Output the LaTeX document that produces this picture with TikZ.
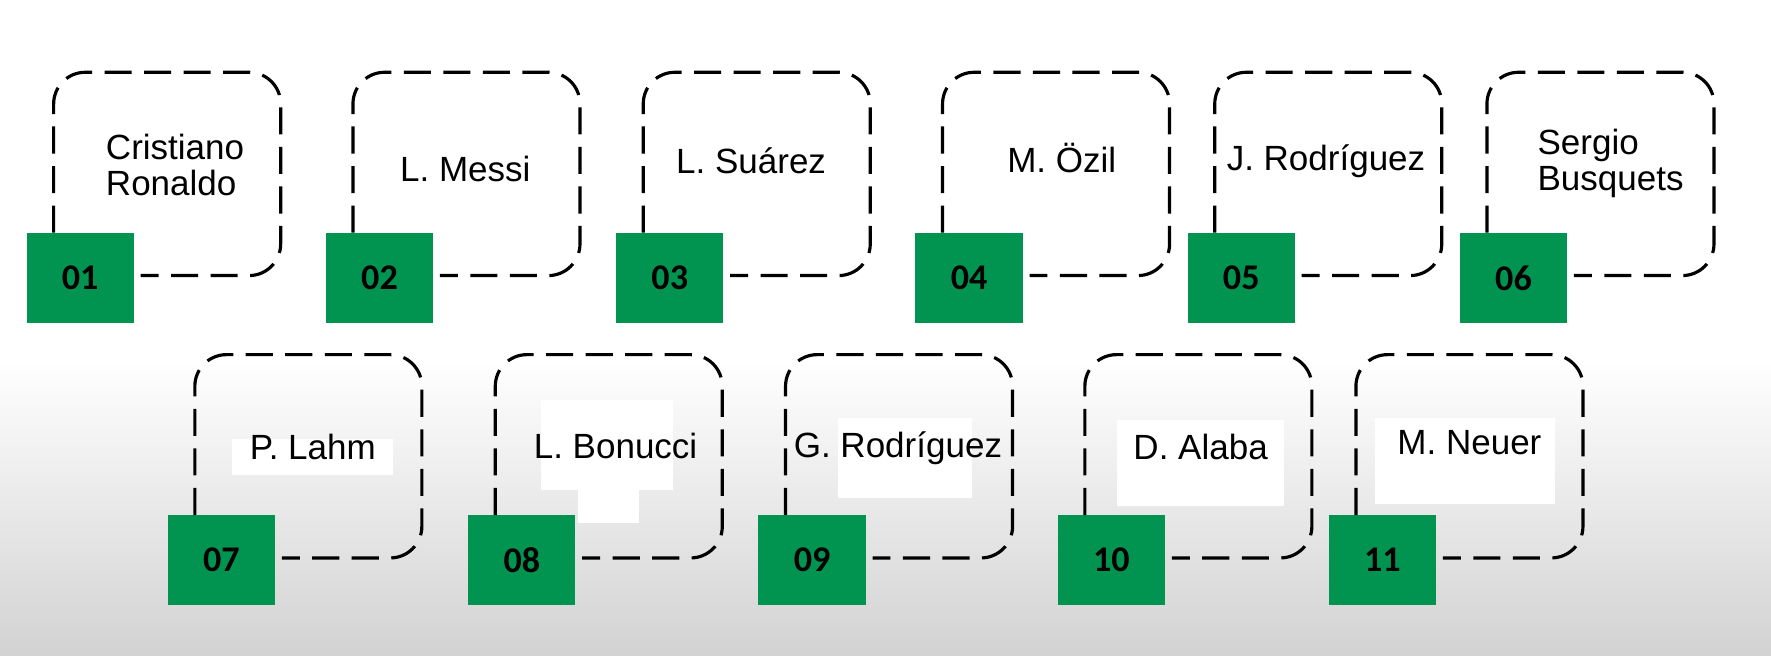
\documentclass[tikz,border=0pt]{standalone}
\usepackage{fontspec}
\setmainfont{Liberation Sans}
\newfontfamily\numfont{Carlito}
\usetikzlibrary{positioning}
\definecolor{boxgreen}{RGB}{0,148,80}

\begin{document}
\begin{tikzpicture}[x=1pt,y=1pt,on grid,
	numbox/.style={fill=boxgreen,minimum width=95pt,minimum height=80pt,inner sep=0pt,outer sep=0pt,font=\numfont\bfseries\fontsize{32}{32}\selectfont},
	player/.style={align=left,inner sep=0pt,font=\fontsize{31}{32}\selectfont},
	dashbox/.style={line width=2.8pt,dash pattern=on 24pt off 11pt,rounded corners=28pt}]

% background
\fill[white] (0,0) rectangle (1568,580);
\shade[top color=white,bottom color=gray!35] (0,0) rectangle (1568,262);
\useasboundingbox (0,0) rectangle (1568,580);

% white patches behind the lower names
\fill[white] (205,159) rectangle (348,191);
\fill[white] (479,146) rectangle (596,226);
\fill[white] (512,117) rectangle (566,146);
\fill[white] (742,139) rectangle (861,210);
\fill[white] (989,132) rectangle (1137,208);
\fill[white] (1217,134) rectangle (1377,210);

\node[numbox]	(n01)	at (71,334)									{01};
\node[numbox]	(n02)	[right=265pt of n01]						{02};
\node[numbox]	(n03)	[right=257pt of n02]						{03};
\node[numbox]	(n04)	[right=265pt of n03]						{04};
\node[numbox]	(n05)	[right=241pt of n04]						{05};
\node[numbox]	(n06)	[right=241pt of n05]						{06};
\node[numbox]	(n07)	[below right=250pt and 125pt of n01]		{07};
\node[numbox]	(n08)	[right=266pt of n07]						{08};
\node[numbox]	(n09)	[right=257pt of n08]						{09};
\node[numbox]	(n10)	[right=265pt of n09]						{10};
\node[numbox]	(n11)	[right=240pt of n10]						{11};

\node[player]	(t01)	[above right=100pt and 84pt of n01]		{Cristiano\\Ronaldo};
\node[player]	(t02)	[above right=96pt and 76pt of n02]		{L. Messi};
\node[player]	(t03)	[above right=104pt and 72pt of n03]		{L. Suárez};
\node[player]	(t04)	[above right=106pt and 82pt of n04]		{M. Özil};
\node[player]	(t05)	[above right=103pt and 75pt of n05]		{J. Rodríguez};
\node[player]	(t06)	[above right=101pt and 86pt of n06]		{Sergio\\Busquets};
\node[player]	(t07)	[above right=100pt and 81pt of n07]		{P. Lahm};
\node[player]	(t08)	[above right=101pt and 83pt of n08]		{L. Bonucci};
\node[player]	(t09)	[above right=99pt and 76pt of n09]		{G. Rodríguez};
\node[player]	(t10)	[above right=100pt and 79pt of n10]		{D. Alaba};
\node[player]	(t11)	[above right=104pt and 77pt of n11]		{M. Neuer};

\draw[dashbox] ([xshift=24pt]n01.north west) |- ++(201,142) |- ([xshift=6pt,yshift=2pt]n01.east);
\draw[dashbox] ([xshift=24pt]n02.north west) |- ++(201,142) |- ([xshift=6pt,yshift=2pt]n02.east);
\draw[dashbox] ([xshift=24pt]n03.north west) |- ++(201,142) |- ([xshift=6pt,yshift=2pt]n03.east);
\draw[dashbox] ([xshift=24pt]n04.north west) |- ++(201,142) |- ([xshift=6pt,yshift=2pt]n04.east);
\draw[dashbox] ([xshift=24pt]n05.north west) |- ++(201,142) |- ([xshift=6pt,yshift=2pt]n05.east);
\draw[dashbox] ([xshift=24pt]n06.north west) |- ++(201,142) |- ([xshift=6pt,yshift=2pt]n06.east);
\draw[dashbox] ([xshift=24pt]n07.north west) |- ++(201,142) |- ([xshift=6pt,yshift=2pt]n07.east);
\draw[dashbox] ([xshift=24pt]n08.north west) |- ++(201,142) |- ([xshift=6pt,yshift=2pt]n08.east);
\draw[dashbox] ([xshift=24pt]n09.north west) |- ++(201,142) |- ([xshift=6pt,yshift=2pt]n09.east);
\draw[dashbox] ([xshift=24pt]n10.north west) |- ++(201,142) |- ([xshift=6pt,yshift=2pt]n10.east);
\draw[dashbox] ([xshift=24pt]n11.north west) |- ++(201,142) |- ([xshift=6pt,yshift=2pt]n11.east);
\end{tikzpicture}
\end{document}
